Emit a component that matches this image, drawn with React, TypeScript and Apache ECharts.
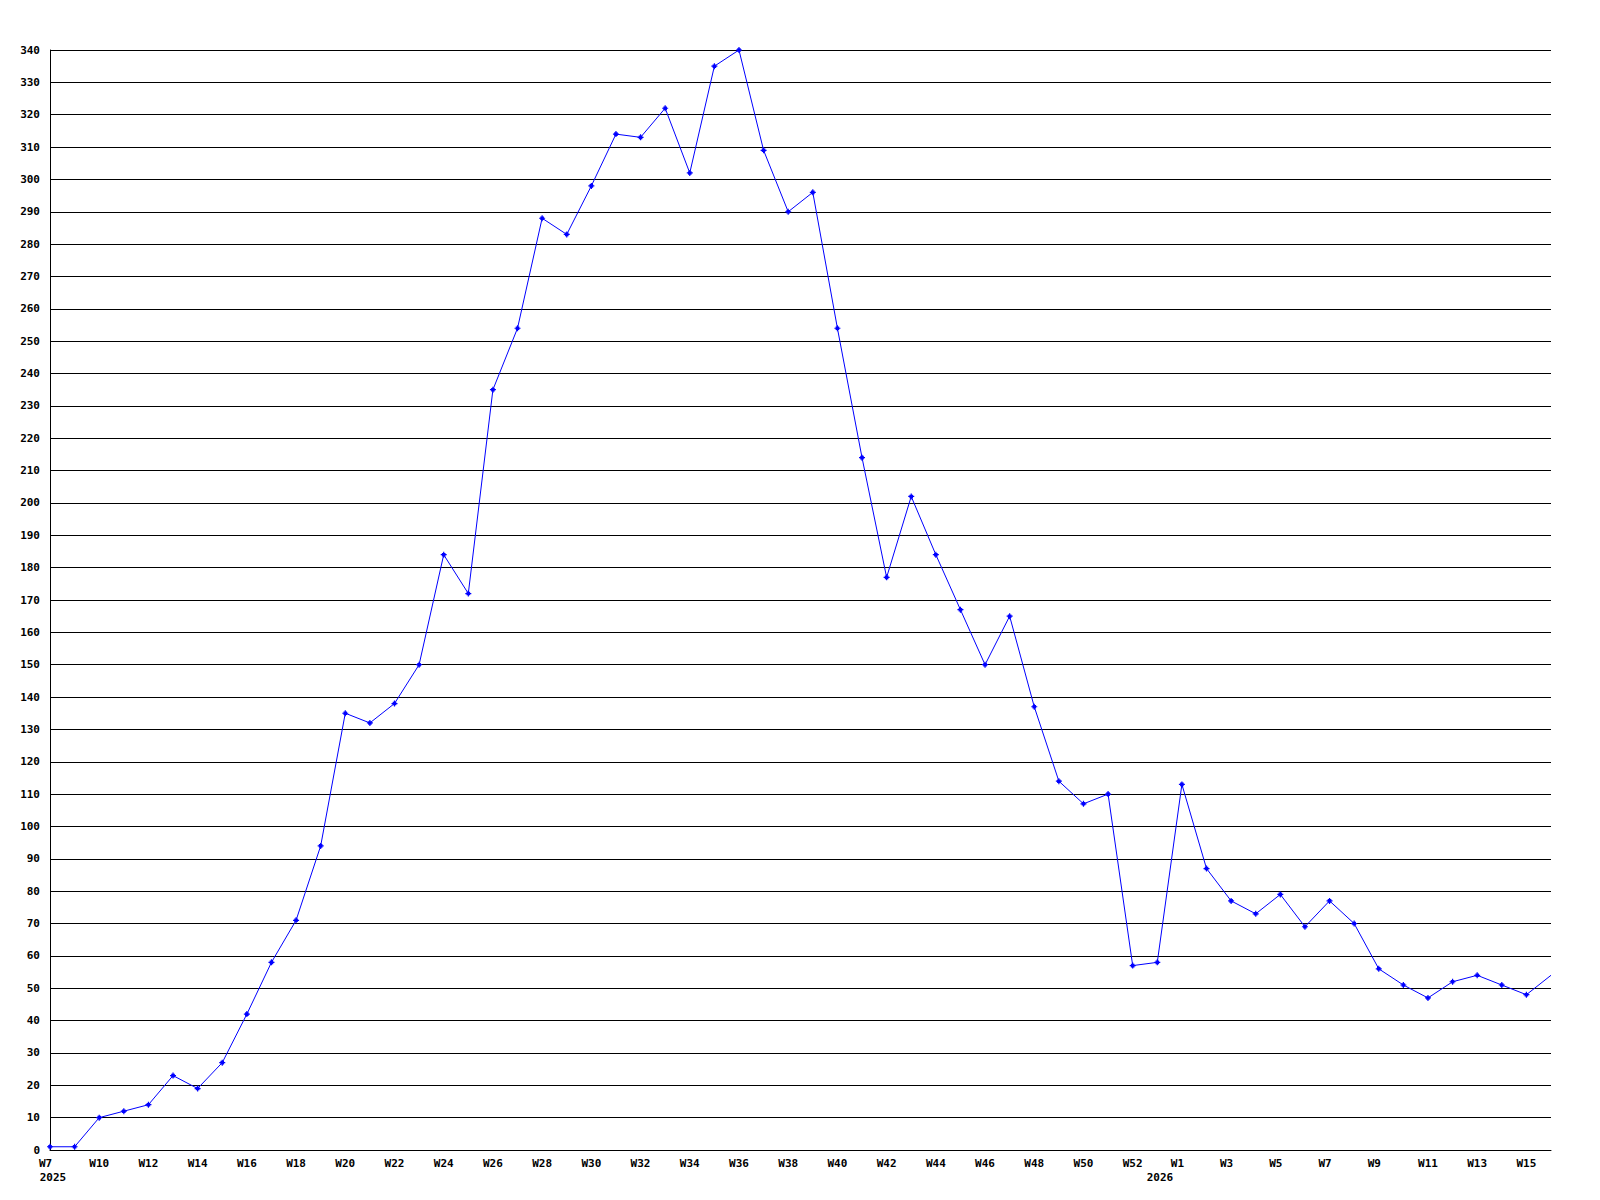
import React, { useEffect, useRef } from "react";
import * as echarts from "echarts";

const weeks = [
  "W7", "W9", "W10", "W11", "W12", "W13", "W14", "W15", "W16", "W17",
  "W18", "W19", "W20", "W21", "W22", "W23", "W24", "W25", "W26", "W27",
  "W28", "W29", "W30", "W31", "W32", "W33", "W34", "W35", "W36", "W37",
  "W38", "W39", "W40", "W41", "W42", "W43", "W44", "W45", "W46", "W47",
  "W48", "W49", "W50", "W51", "W52", "W53", "W1", "W2", "W3", "W4",
  "W5", "W6", "W7", "W8", "W9", "W10", "W11", "W12", "W13", "W14",
  "W15", "W16",
];

const values = [
  1, 1, 10, 12, 14, 23, 19, 27, 42, 58,
  71, 94, 135, 132, 138, 150, 184, 172, 235, 254,
  288, 283, 298, 314, 313, 322, 302, 335, 340, 309,
  290, 296, 254, 214, 177, 202, 184, 167, 150, 165,
  137, 114, 107, 110, 57, 58, 113, 87, 77, 73,
  79, 69, 77, 70, 56, 51, 47, 52, 54, 51,
  48, 54,
];

// year markers: category index -> year label
const yearMarks: Record<number, string> = { 0: "2025", 46: "2026" };

const FONT = "'DejaVu Sans Mono', 'Liberation Mono', monospace";
const txt = { fontFamily: FONT, fontWeight: "bold", fontSize: 11, color: "#000" };

export default function App() {
  const ref = useRef<HTMLDivElement>(null);

  useEffect(() => {
    if (!ref.current) return;
    const chart = echarts.init(ref.current, null, { renderer: "svg" });
    const lastIdx = values.length - 1;
    chart.setOption({
      animation: false,
      backgroundColor: "#ffffff",
      grid: { left: 50, right: 49, top: 50, bottom: 50, containLabel: false },
      xAxis: [
        {
          type: "category",
          data: weeks,
          boundaryGap: false,
          axisLine: { show: true, lineStyle: { color: "#000", width: 1 } },
          axisTick: { show: false },
          splitLine: { show: false },
          axisLabel: {
            interval: 1,
            margin: 8,
            ...txt,
            formatter: (v: string) => (v.length <= 2 ? "{s|" + v + "}" : "{n|" + v + "}"),
            rich: {
              s: { ...txt, padding: [0, 9, 0, 0] },
              n: { ...txt },
            },
          },
        },
        {
          type: "category",
          data: weeks,
          boundaryGap: false,
          position: "bottom",
          axisLine: { show: false },
          axisTick: { show: false },
          splitLine: { show: false },
          axisLabel: {
            interval: (idx: number) => yearMarks[idx] !== undefined,
            margin: 22,
            ...txt,
            formatter: (_v: string, idx: number) =>
              idx === 0 ? "{a|" + yearMarks[idx] + "}" : "{b|" + yearMarks[idx] + "}",
            rich: {
              a: { ...txt, padding: [0, 0, 0, 6] },
              b: { ...txt, padding: [0, 44, 0, 0] },
            },
          },
        },
      ],
      yAxis: {
        type: "value",
        min: 0,
        max: 340,
        interval: 10,
        axisLine: { show: true, lineStyle: { color: "#000", width: 1 } },
        axisTick: { show: false },
        splitLine: { show: true, lineStyle: { color: "#000", width: 1 } },
        axisLabel: {
          margin: 10,
          ...txt,
        },
      },
      series: [
        {
          type: "line",
          xAxisIndex: 0,
          data: values.map((v, i) => (i === lastIdx ? { value: v, symbol: "none" } : v)),
          symbol: "path://M2,0H3V1H4V2H5V3H4V4H3V5H2V4H1V3H0V2H1V1H2Z",
          symbolSize: 6,
          showAllSymbol: true,
          lineStyle: { color: "#0000ff", width: 1 },
          itemStyle: { color: "#0000ff" },
        },
      ],
    });
    return () => chart.dispose();
  }, []);

  return (
    <div
      ref={ref}
      style={{ position: "fixed", left: 0, top: 0, width: 1600, height: 1200, background: "#fff" }}
    />
  );
}
